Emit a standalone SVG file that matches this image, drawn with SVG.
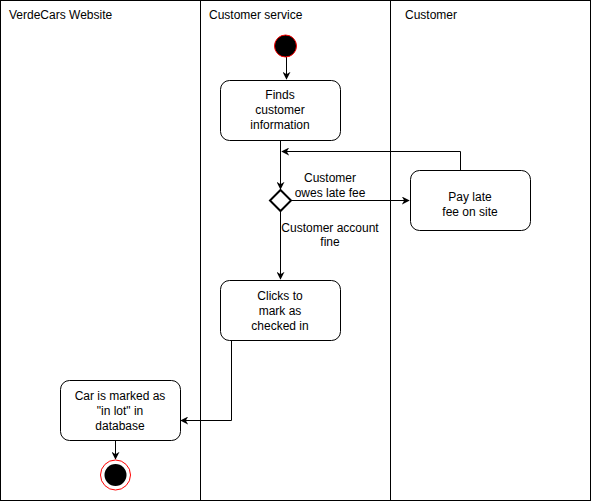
<svg xmlns="http://www.w3.org/2000/svg" width="592" height="502" viewBox="0 0 592 502">
<style>
text{font-family:"Liberation Sans",Arial,Helvetica,sans-serif;font-size:12px;fill:#000}
.c{text-anchor:middle}
.lane{fill:#fff;stroke:#000;stroke-width:1}
.box{fill:#fff;stroke:#000;stroke-width:1}
.e{fill:none;stroke:#000;stroke-width:1}
</style>
<defs>
<marker id="a" viewBox="0 0 10 10" refX="9" refY="5" markerWidth="8" markerHeight="8" markerUnits="userSpaceOnUse" orient="auto">
<path d="M0,0 L10,5 L0,10 L3,5 Z" fill="#000"/>
</marker>
</defs>
<rect width="592" height="502" fill="#fff"/>
<g id="lanes">
<rect class="lane" x="0.5" y="0.5" width="200" height="500"/>
<rect class="lane" x="200.5" y="0.5" width="190" height="500"/>
<rect class="lane" x="390.5" y="0.5" width="200" height="500"/>
<text x="9" y="19">VerdeCars Website</text>
<text x="209" y="19">Customer service</text>
<text x="405" y="19">Customer</text>
</g>
<g id="connectors">
<path class="e" d="M286.5,57 V79" marker-end="url(#a)"/>
<path class="e" d="M280.5,140 V189" marker-end="url(#a)"/>
<path class="e" d="M291,200.5 H409" marker-end="url(#a)"/>
<path class="e" d="M460.5,170 V151.5 H282" marker-end="url(#a)"/>
<path class="e" d="M280.5,211 V279" marker-end="url(#a)"/>
<path class="e" d="M231.5,340 V420.5 H181" marker-end="url(#a)"/>
<path class="e" d="M115.5,440 V459" marker-end="url(#a)"/>
<text class="c" x="330" y="182">Customer</text>
<text class="c" x="330" y="197">owes late fee</text>
<text class="c" x="330" y="232">Customer account</text>
<text class="c" x="330" y="246">fine</text>
</g>
<g id="start">
<circle cx="285.5" cy="46" r="11" fill="#000" stroke="#ff0000" stroke-width="1"/>
</g>
<g id="finds">
<rect class="box" x="220.5" y="80.5" width="120" height="60" rx="9"/>
<text class="c" x="280" y="99">Finds</text>
<text class="c" x="280" y="114">customer</text>
<text class="c" x="280" y="129">information</text>
</g>
<g id="decision">
<path d="M280.5,190 L291,200.5 L280.5,211 L270,200.5 Z" fill="#fff" stroke="#000" stroke-width="2"/>
</g>
<g id="pay">
<rect class="box" x="410.5" y="170.5" width="120" height="60" rx="9"/>
<text class="c" x="470" y="201">Pay late</text>
<text class="c" x="470" y="216">fee on site</text>
</g>
<g id="clicks">
<rect class="box" x="220.5" y="280.5" width="120" height="60" rx="9"/>
<text class="c" x="280" y="300">Clicks to</text>
<text class="c" x="280" y="315">mark as</text>
<text class="c" x="280" y="330">checked in</text>
</g>
<g id="car">
<rect class="box" x="60.5" y="380.5" width="120" height="60" rx="9"/>
<text class="c" x="120" y="400">Car is marked as</text>
<text class="c" x="120" y="415">"in lot" in</text>
<text class="c" x="120" y="430">database</text>
</g>
<g id="end">
<circle cx="115.5" cy="475" r="15" fill="#fff" stroke="#ff0000" stroke-width="1"/>
<circle cx="115.5" cy="475" r="11" fill="#000"/>
</g>
</svg>
